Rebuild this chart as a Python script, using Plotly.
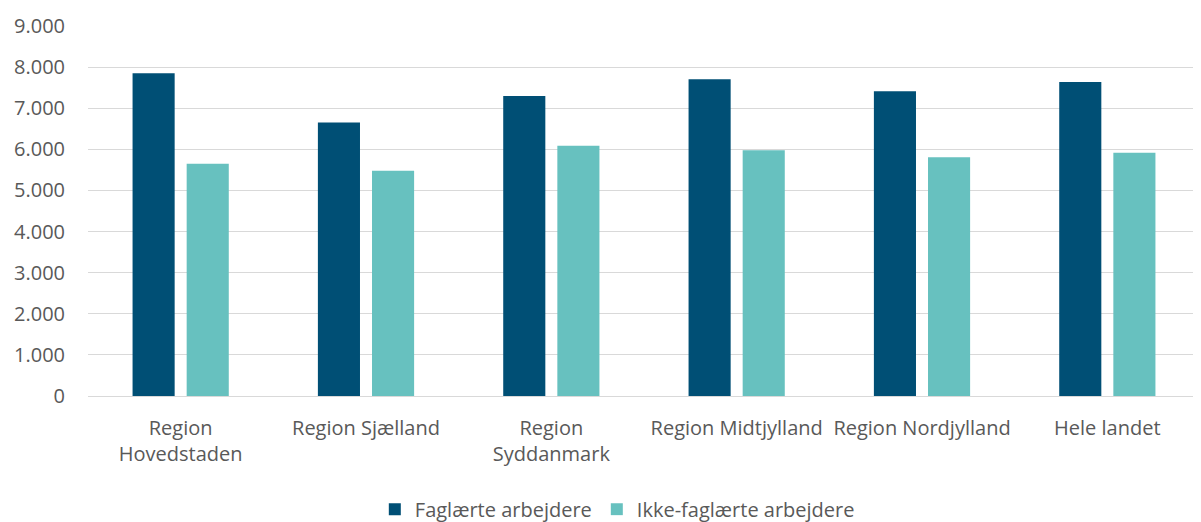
import plotly.graph_objects as go

categories = ["Region<br>Hovedstaden", "Region Sjælland", "Region<br>Syddanmark",
              "Region Midtjylland", "Region Nordjylland", "Hele landet"]
faglaerte = [7850, 6650, 7300, 7705, 7415, 7635]
ikke_faglaerte = [5650, 5480, 6085, 5980, 5810, 5915]
y_ticks = [0, 1000, 2000, 3000, 4000, 5000, 6000, 7000, 8000, 9000]
y_tick_labels = ["0", "1.000", "2.000", "3.000", "4.000", "5.000", "6.000", "7.000", "8.000", "9.000"]

fig = go.Figure()
fig.add_trace(go.Bar(x=categories, y=faglaerte, name="Faglærte arbejdere",
                     marker=dict(color="#004f75", line=dict(width=0))))
fig.add_trace(go.Bar(x=categories, y=ikke_faglaerte, name="Ikke-faglærte arbejdere",
                     marker=dict(color="#67c1bf", line=dict(width=0))))

fig.update_layout(
    width=1193, height=514,
    margin=dict(l=80, r=1, t=18, b=126),
    paper_bgcolor="white", plot_bgcolor="white",
    font=dict(family="Open Sans", size=20, color="#595959"),
    barmode="group", bargap=0.416, bargroupgap=0.222,
    showlegend=True,
    legend=dict(orientation="h", x=0.476, xanchor="center",
                yref="container", y=0.025, yanchor="middle",
                font=dict(size=20, color="#595959"), itemsizing="constant"),
)
fig.update_xaxes(showgrid=False, showline=True, linecolor="#d9d9d9", linewidth=1,
                 ticks="", ticklabelstandoff=14, automargin=False,
                 tickfont=dict(size=20, color="#595959"))
fig.update_yaxes(range=[0, 9000], tickvals=y_ticks, ticktext=y_tick_labels,
                 showgrid=True, gridcolor="#d9d9d9", gridwidth=1, zeroline=False,
                 showline=False, ticks="", ticklabelstandoff=22, automargin=False,
                 tickfont=dict(size=20, color="#595959"))

fig.write_html("out.html")
